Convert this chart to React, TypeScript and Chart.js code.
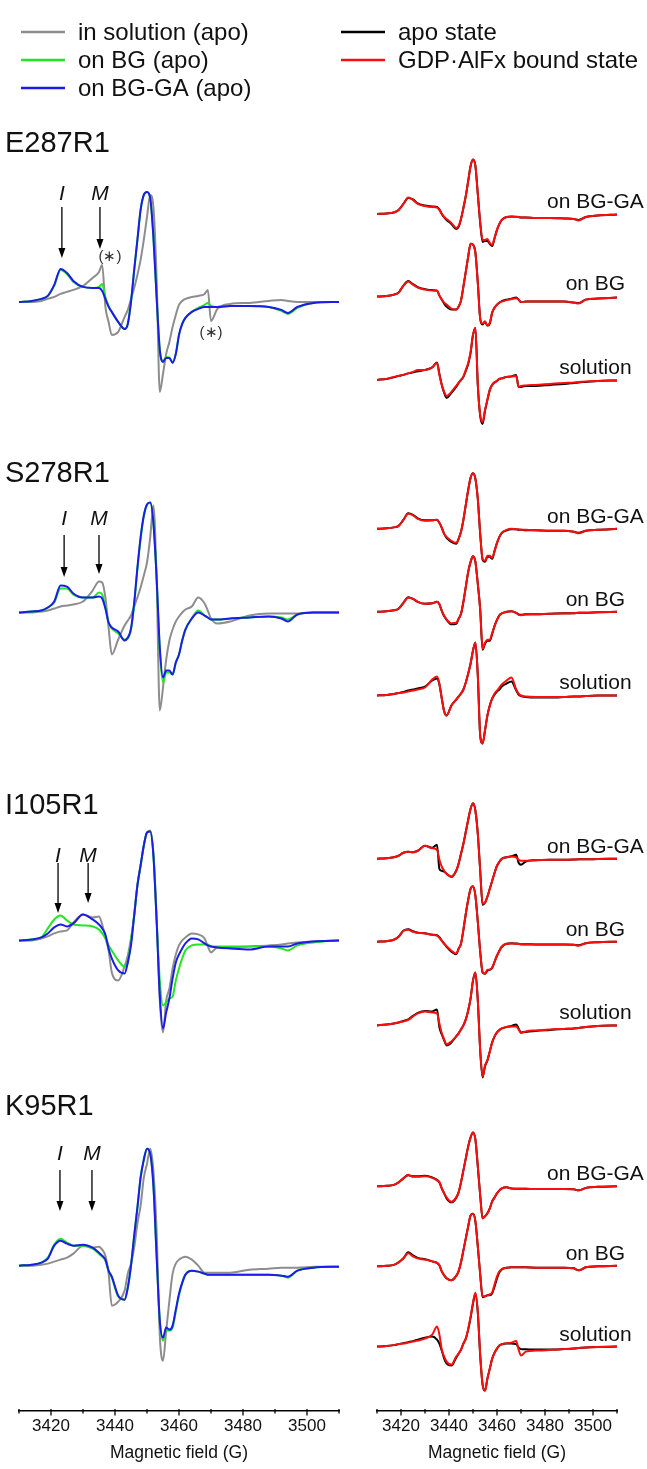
import React, { useEffect, useRef } from "react";
import { Chart, registerables } from "chart.js";

Chart.register(...registerables);

const W = 647;
const H = 1469;
const FONT = "'Liberation Sans', Arial, Helvetica, sans-serif";

// ---------- data ----------
// magnetic field sampling grid (G)
const field = [3410, 3414, 3417, 3419, 3421, 3423, 3425, 3427, 3430, 3433, 3435, 3436, 3437, 3438, 3439, 3441, 3443, 3444, 3445, 3446, 3447, 3448, 3449, 3450, 3451, 3452, 3453, 3454, 3455, 3456, 3457, 3458, 3459, 3460, 3461, 3462, 3464, 3466, 3468, 3469, 3470, 3472, 3476, 3482, 3488, 3492, 3494, 3497, 3502, 3510];

const tickValues = [3410, 3420, 3430, 3440, 3450, 3460, 3470, 3480, 3490, 3500, 3510];
const tickLabels = ["", "3420", "", "3440", "", "3460", "", "3480", "", "3500", ""];

const mutants = ["E287R1", "S278R1", "I105R1", "K95R1"];
const conditions = ["on BG-GA", "on BG", "solution"];

// left panel: apo spectra (arbitrary units)
const e287Solution = [0, 0, 1, 3, 5, 8, 10, 12, 16, 24, 30, 37, -5, -20, -33, -30, -15, -8, 3, 14, 27, 42, 62, 85, 107, 95, 25, -90, -72, -52, -40, -25, -13, -3, 1, 3, 5, 6, 8, 12, -19, -7, -2, -1, 1, 2, 1, 0, 0, 0];
const e287OnBG = [0, 1, 3, 6, 16, 32, 28, 20, 15, 14, 15, 18, 5, -4, -10, -20, -27, -22, 0, 32, 62, 92, 107, 110, 104, 65, 5, -48, -59, -55, -56, -60, -52, -33, -22, -16, -10, -6, -3, -1, -4, -5, -4, -4, -5, -9, -12, -6, -1, 0];
const e287OnBGGA = [0, 1, 3, 6, 17, 33, 29, 21, 15, 14, 14, 11, 3, -5, -10, -20, -27, -22, 0, 32, 62, 92, 107, 110, 104, 65, 5, -48, -60, -56, -56, -61, -52, -33, -22, -16, -10, -7, -5, -5, -5, -5, -4, -4, -5, -8, -11, -5, -1, 0];

const s278Solution = [0, 0, 1, 2, 4, 6, 7, 8, 11, 22, 31, 30, 15, -15, -42, -27, -13, -8, -3, 6, 15, 25, 37, 50, 75, 107, 35, -98, -75, -47, -28, -17, -9, -4, 0, 3, 6, 15, 9, 2, -6, -11, -9, -3, -1, -1, -1, -1, 0, 0];
const s278OnBG = [0, 1, 2, 5, 10, 24, 24, 18, 15, 15, 20, 18, 5, -10, -16, -21, -27, -26, -17, 8, 43, 74, 96, 108, 110, 90, 35, -38, -70, -60, -60, -62, -50, -42, -28, -17, -6, 2, -3, -5, -7, -7, -6, -5, -4, -5, -7, -2, 0, 0];
const s278OnBGGA = [0, 1, 2, 5, 11, 27, 26, 19, 15, 15, 16, 14, 4, -10, -15, -19, -28, -25, -16, 10, 45, 75, 97, 108, 110, 90, 35, -35, -65, -58, -58, -62, -50, -42, -28, -17, -6, 0, -3, -5, -7, -7, -6, -5, -4, -6, -9, -2, 0, 0];

const i105Solution = [0, 0, 2, 4, 7, 9, 10, 18, 26, 23, 24, 16, 3, -10, -32, -40, -26, -15, 2, 25, 55, 75, 95, 108, 110, 88, 25, -60, -92, -60, -48, -28, -14, -5, 0, 3, 7, 6, 2, -6, -12, -7, -7, -6, -5, -4, -3, -2, -1, 0];
const i105OnBG = [0, 1, 3, 12, 21, 25, 20, 16, 15, 14, 11, 7, 2, -5, -10, -20, -26, -22, 0, 25, 55, 75, 95, 108, 109, 85, 20, -40, -65, -62, -58, -56, -40, -28, -18, -10, -5, -4, -4, -4, -6, -6, -6, -6, -6, -8, -10, -5, -2, 0];
const i105OnBGGA = [0, 1, 3, 7, 13, 16, 14, 17, 26, 21, 16, 12, 6, -8, -18, -30, -33, -22, -5, 25, 55, 75, 95, 108, 109, 85, 20, -55, -88, -72, -58, -38, -22, -14, -8, -3, 2, 1, -3, -5, -6, -7, -8, -9, -6, -6, -6, -3, -1, 0];

const k95Solution = [0, 0, 1, 2, 4, 6, 8, 12, 20, 18, 19, 16, 10, -8, -40, -36, -25, -8, 2, 18, 42, 60, 88, 102, 117, 95, 35, -70, -95, -65, -35, -8, 2, 6, 8, 9, 6, 0, -7, -7, -7, -7, -7, -4, -3, -2, -2, -2, -1, -1];
const k95OnBG = [0, 1, 3, 8, 21, 27, 23, 20, 20, 17, 12, 9, 5, -6, -12, -31, -34, -22, 0, 30, 58, 88, 106, 117, 112, 80, 10, -55, -75, -65, -65, -62, -46, -30, -18, -9, -5, -6, -8, -9, -9, -9, -9, -9, -9, -10, -12, -5, -2, -1];
const k95OnBGGA = [0, 1, 3, 7, 20, 25, 22, 20, 21, 18, 13, 10, 6, -5, -11, -30, -34, -22, 0, 30, 58, 88, 106, 117, 112, 80, 10, -55, -72, -62, -64, -60, -44, -28, -17, -9, -5, -6, -8, -9, -9, -9, -9, -9, -9, -10, -11, -5, -2, -1];

// right panel: apo state vs GDP·AlFx bound state (arbitrary units)
const e287BGGAApo = [0, 0.5, 1.5, 4, 10, 16, 14.5, 10.5, 8.5, 7.5, 7, 4.5, 0, -3.5, -6, -10, -15, -13, -5, 6, 18, 33, 48, 54.5, 48, 20, -9, -28, -27, -27, -30, -32, -24, -16, -10, -6, -3, -2.5, -2.8, -3, -3.5, -3.5, -4, -4, -4.5, -5, -6, -3, -1.5, -0.5];
const e287BGGAGdp = [0, 0.5, 1.5, 4, 10, 16.5, 14, 10, 8, 7, 6.5, 4, 0, -3, -5, -9, -14, -12, -5, 6, 18, 33, 48, 54.5, 48, 20, -8, -26, -26, -25, -29, -31, -24, -16, -10, -6, -3, -2.7, -3, -3, -3.5, -3.5, -4, -4, -4.5, -5, -6.5, -3, -1.5, -0.5];
const e287BGApo = [0, 0.5, 2, 4, 11, 15.5, 12.5, 9.5, 7.5, 6.5, 6, 1, -3, -7, -10, -13, -13, -10, -4, 10, 25, 40, 53, 52, 44, 14, -22, -28, -25, -29, -27, -16, -11, -8, -6, -4.5, -3, -2, -1, -3, -5.5, -5, -5, -5, -5, -6, -6.5, -3, -2, -1];
const e287BGGdp = [0, 0.5, 2, 4, 11, 15, 12, 9, 7, 6, 6, 1, -3, -6, -8, -12, -13, -10, -4, 10, 25, 40, 53, 52, 44, 14, -22, -27, -25, -29, -26, -16, -11, -8, -6, -5, -3.5, -2.5, -1.7, -3, -5.5, -5, -5, -5, -5, -6, -7, -3, -2, -1];
const e287SolApo = [0, 1, 2.5, 4, 5, 6.5, 7.5, 8.5, 10, 12.5, 17.5, 6, -5, -13, -18, -13, -7, -3, 0, 3, 9, 16, 27, 45, 52, -5, -36, -44, -31, -20, -10, -5, -2.5, -1, 1, 1.5, 3, 3.5, 5, -7, -7, -6, -6, -5, -4, -3, -2.5, -2, -1, -0.5];
const e287SolGdp = [0, 1, 3, 4, 5, 6.5, 8, 10, 10, 12.5, 17, 5, -5, -12, -16, -12, -6, -3, 0, 3.5, 10, 17, 28, 45, 52, -5, -35, -42, -30, -20, -10, -5, -2.5, -1, 1, 1.5, 3, 3.5, 4, -7, -6, -5.5, -5, -4, -3, -2.5, -2, -1.5, -1, -0.5];

const s278BGGAApo = [0, 0.5, 1.5, 3, 9, 15.5, 14, 10.5, 8.5, 8.5, 9, 6, 1, -5, -9, -13, -15, -10, -3, 9, 24, 39, 51, 55.5, 50, 30, -5, -31, -33, -28, -28, -30, -22, -14, -8, -4, -1.5, -0.5, -0.5, -1, -1, -1.5, -1.5, -2, -2, -3, -4, -2, -1, 0];
const s278BGGAGdp = [0, 0.5, 1.5, 3, 9, 15, 13.5, 10, 8, 8.5, 9, 6, 1, -5, -8, -12, -14, -10, -3, 9, 24, 39, 51, 55.5, 50, 30, -5, -30, -32, -27, -27, -29, -22, -14, -8, -4, -1, 0, -0.5, -0.5, -1, -1, -1.5, -2, -2, -3, -4.5, -2, -1, 0];
const s278BGApo = [0, 0.5, 1.5, 3, 9, 14.5, 13, 10, 8, 8.5, 10, 7.5, 1, -4.5, -8, -12.5, -12, -7, -2, 10, 25, 40, 50, 55.5, 50, 28, 2, -38, -32, -29, -29, -22, -14, -8, -3.5, -1.5, 0, 0.5, -1, -2.5, -3, -2.5, -2.5, -2, -1.5, -1.5, -1, -1, -0.5, 0];
const s278BGGdp = [0, 0.5, 1.5, 3, 9, 14, 13, 10, 8, 8.5, 10, 7.5, 1, -4, -7.5, -11.5, -11, -7, -2, 10, 25, 40, 50, 55.5, 50, 28, 2, -37, -31, -28, -28, -21, -14, -8, -3.5, -1.5, 0, 0.7, -1, -3, -3.3, -2.7, -2.5, -2, -1.7, -1.5, -1, -1, -0.5, 0];
const s278SolApo = [0, 0.5, 1.5, 2.5, 3.5, 5, 6, 7, 9, 15, 17, 11, -3, -16, -20, -10, -4, -1, 2, 6, 13, 22, 32, 45, 53, 20, -40, -48, -35, -20, -10, -3, 1, 4, 6, 9, 12, 14, 5, 1, -0.5, -1.5, -2, -2, -1.5, -1, -1, -0.5, 0, 0];
const s278SolGdp = [0, 0.5, 1.5, 2.5, 3, 4, 5, 6, 8, 16, 19, 12, -3, -16, -20, -10, -4, -1, 2, 6, 13, 22, 32, 45, 53, 20, -40, -48, -35, -20, -10, -3, 2, 5, 8, 11, 15, 18, 6, 2, 0, -1, -1.5, -1.5, -1.5, -1, -1, -0.5, 0, 0];

const i105BGGAApo = [0, 0.5, 1.5, 3, 6, 7, 6.5, 8, 13, 11, 14, -10, -12, -13, -15, -18, -12, -5, 5, 15, 27, 39, 50, 55.5, 48, 25, -12, -46, -44, -38, -30, -22, -14, -7, -3, 0, 1.5, 2.5, 4, -4, -6, -2.7, -1.5, -1, -1, -0.8, -0.6, -0.5, -0.3, 0];
const i105BGGAGdp = [0, 0.5, 1.5, 3, 6, 7, 6.5, 8, 13, 10.5, 9, -1, -8, -12, -15, -18, -12, -5, 5, 15, 27, 39, 50, 55.5, 48, 25, -12, -45, -44, -38, -30, -22, -14, -7, -3, 0, 1.5, 2.3, 1.5, -1, -2, -2, -1.5, -1, -1, -0.8, -0.6, -0.5, -0.3, 0];
const i105BGApo = [0, 0.5, 2, 5, 11, 12.5, 10.5, 9, 8.5, 7, 6.5, 4.5, 1, -2, -5, -10, -12.5, -7, -2, 12, 28, 42, 53, 55.5, 46, 20, -10, -31, -32, -29, -28, -26, -20, -14, -9, -5, -2, -1.5, -1.8, -2, -2.5, -2.5, -2.7, -2.7, -2.7, -3, -3.5, -1.5, -0.5, 0];
const i105BGGdp = [0, 0.5, 2, 5, 11, 12, 10, 9, 8.3, 7, 6, 4, 1, -2, -4.5, -9, -12, -7, -2, 12, 28, 42, 53, 55.5, 46, 20, -10, -30, -32, -28, -28, -26, -20, -14, -9, -5, -2, -1.7, -2, -2.3, -2.5, -2.7, -2.7, -2.7, -2.7, -3, -4, -1.5, -0.5, 0];
const i105SolApo = [0, 1, 2, 3, 4.5, 6, 9.5, 12.5, 14.5, 14, 16, -2, -9, -15, -20, -17, -11, -8, -4, 0, 6, 15, 27, 45, 53, 25, -25, -52, -41, -35, -26, -17, -11, -7, -4.5, -3, -1.5, -0.5, 1, -3, -7, -6.5, -5.5, -4.5, -3.5, -3, -2.5, -1.5, -0.5, 0];
const i105SolGdp = [0, 1, 2, 3, 4, 5.5, 9, 12, 14, 13, 12, 2, -8, -14, -19, -16, -11, -8, -4, 0, 6, 15, 27, 45, 53, 25, -25, -51, -40, -35, -26, -17, -11, -7, -4.5, -3, -1.5, -1, -1, -4, -7.5, -6, -5, -4, -3.5, -3, -2.5, -1.5, -0.5, 0];

const k95BGGAApo = [0, 0.5, 1.5, 4, 8, 11, 10, 10, 10.5, 9, 6.5, 4, -2, -7, -12, -16, -11.5, -6, 4, 16, 28, 40, 49, 54, 47, 20, -9, -32, -30, -27, -22, -15, -11, -7, -4, -2, -1, -2, -2.5, -2.5, -2.5, -2.5, -2.7, -2.7, -2.7, -3, -4, -1.5, -0.5, 0];
const k95BGGAGdp = [0, 0.5, 1.5, 4, 8, 11.5, 9.5, 9.5, 10, 8.5, 6, 4, -2, -7, -11, -15.5, -11, -6, 4, 16, 28, 40, 49, 54, 47, 20, -9, -32, -30, -27, -22, -15, -11, -7, -4, -2, -1, -2.3, -2.5, -2.5, -2.5, -2.5, -2.7, -2.7, -2.7, -3, -4, -1.5, -0.5, 0];
const k95BGApo = [0, 0.5, 1.5, 4, 8, 14, 11, 8.5, 7, 5, 3.5, 1, -5, -9, -12, -14, -9.5, -5, 4, 16, 28, 40, 51, 52.5, 45, 20, -8, -31, -30, -29, -29, -27, -20, -12, -6, -3, -1.5, -0.8, -1, -1, -1, -1, -1.3, -1.3, -1.3, -2, -4, -1, 0, 0.5];
const k95BGGdp = [0, 0.5, 1.5, 4, 8, 13, 10, 8, 6.7, 5, 3.5, 1, -5, -9, -12, -14, -9.5, -5, 4, 16, 28, 40, 51, 52.5, 45, 20, -8, -30, -30, -29, -28, -26, -18, -10, -5, -2.7, -1.5, -0.8, -1, -1, -1, -1, -1.3, -1.3, -1.3, -2, -4, -1, 0, 0.5];
const k95SolApo = [0, 0.5, 1.5, 2.5, 3.5, 4.5, 5.5, 7, 9, 10, 7, 3, -4, -12, -17, -19, -11, -7, -3, 3, 8, 17, 29, 43, 53, 34, -9, -38, -44, -32, -22, -12, -6, -2, 1, 2.3, 3, 3, 2.5, -1, -2.5, -2.7, -3, -3, -2.5, -2, -1.5, -1, -0.5, 0];
const k95SolGdp = [0, 0.5, 1.5, 2.5, 3, 4, 5, 6, 8, 12, 20, 12, -3, -10, -15, -18, -10, -7, -3, 3, 8, 18, 30, 44, 54, 35, -8, -38, -44, -32, -22, -12, -6, -2, 1, 2.3, 3.5, 4, 5.5, -3, -9, -5, -4, -3.5, -2.5, -2, -1.5, -1, -0.5, 0];

const leftSolution = [e287Solution, s278Solution, i105Solution, k95Solution];
const leftOnBG = [e287OnBG, s278OnBG, i105OnBG, k95OnBG];
const leftOnBGGA = [e287OnBGGA, s278OnBGGA, i105OnBGGA, k95OnBGGA];

const rightApo = [
  [e287BGGAApo, e287BGApo, e287SolApo],
  [s278BGGAApo, s278BGApo, s278SolApo],
  [i105BGGAApo, i105BGApo, i105SolApo],
  [k95BGGAApo, k95BGApo, k95SolApo],
];
const rightGdp = [
  [e287BGGAGdp, e287BGGdp, e287SolGdp],
  [s278BGGAGdp, s278BGGdp, s278SolGdp],
  [i105BGGAGdp, i105BGGdp, i105SolGdp],
  [k95BGGAGdp, k95BGGdp, k95SolGdp],
];

// ---------- layout (offsets of stacked spectra, annotation placement) ----------
const PLOT_BOTTOM = 1411;
const leftOffsets = [302, 612.7, 940.7, 1266];
const rightOffsets = [
  [214, 296.7, 380],
  [529, 612, 695.7],
  [859, 942, 1025.7],
  [1186.7, 1266.7, 1347],
];
const titleY = [143, 473, 805, 1106];
const markText = ["I", "M"];
const markField = [
  [3423.4, 3435.3],
  [3424.1, 3435],
  [3422.2, 3431.6],
  [3422.8, 3432.8],
];
const markLabelY = [193, 518, 855, 1153];
const markArrowTop = [207, 535, 863, 1170];
const markArrowTip = [
  [258, 249],
  [577, 574],
  [913, 903],
  [1211, 1211],
];
const asteriskField = [3438.4, 3470];
const asteriskY = [257, 333];
const conditionField = 3501;

const GRAY = "#8d8d8d";
const GREEN = "#22e622";
const BLUE = "#1c1ce8";
const BLACK = "#000000";
const RED = "#ff0d0d";
const INK = "#111111";

const legendLeft = [
  { label: "in solution (apo)", color: GRAY },
  { label: "on BG (apo)", color: GREEN },
  { label: "on BG-GA (apo)", color: BLUE },
];
const legendRight = [
  { label: "apo state", color: BLACK },
  { label: "GDP·AlFx bound state", color: RED },
];
const legendRowY = [32, 60, 88];

function points(values: number[], offset: number) {
  return field.map((x, i) => ({ x, y: offset - values[i] }));
}

function lineDs(label: string, values: number[], offset: number, color: string, order: number) {
  return {
    label,
    data: points(values, offset),
    borderColor: color,
    backgroundColor: color,
    borderWidth: 2,
    pointRadius: 0,
    fill: false,
    cubicInterpolationMode: "monotone" as const,
    tension: 0.4,
    order,
  };
}

function xScaleOptions() {
  return {
    type: "linear" as const,
    min: 3410,
    max: 3510,
    border: { display: true, color: "#000", width: 1.5 },
    grid: { display: false, drawTicks: false },
    ticks: {
      stepSize: 10,
      autoSkip: false,
      maxRotation: 0,
      minRotation: 0,
      padding: 6,
      color: INK,
      font: { family: FONT, size: 17 },
      callback: (v: any) => {
        const i = tickValues.indexOf(Number(v));
        return i >= 0 ? tickLabels[i] : "";
      },
    },
    title: {
      display: true,
      text: "Magnetic field (G)",
      color: INK,
      font: { family: FONT, size: 17.5 },
      padding: { top: 0, bottom: 5 },
    },
  };
}

const yScaleOptions = {
  type: "linear" as const,
  display: false,
  min: 0,
  max: PLOT_BOTTOM,
  reverse: true,
};

const tickMarks = {
  id: "tickMarks",
  afterDraw(chart: any) {
    const xs = chart.scales.x;
    const ctx = chart.ctx;
    const y0 = xs.top;
    ctx.save();
    ctx.strokeStyle = "#000";
    ctx.lineWidth = 1.3;
    tickValues.forEach((v) => {
      const px = xs.getPixelForValue(v);
      const major = (v - 3400) % 20 === 0;
      ctx.beginPath();
      ctx.moveTo(px, y0 - 1.5);
      ctx.lineTo(px, y0 + (major ? 5 : 3));
      ctx.stroke();
    });
    ctx.restore();
  },
};

function drawArrow(ctx: CanvasRenderingContext2D, x: number, top: number, tip: number) {
  ctx.beginPath();
  ctx.moveTo(x, top);
  ctx.lineTo(x, tip - 8);
  ctx.stroke();
  ctx.beginPath();
  ctx.moveTo(x - 3.5, tip - 10);
  ctx.lineTo(x + 3.5, tip - 10);
  ctx.lineTo(x, tip);
  ctx.closePath();
  ctx.fill();
}

const leftDecor = {
  id: "leftDecor",
  afterDraw(chart: any) {
    const ctx: CanvasRenderingContext2D = chart.ctx;
    const xs = chart.scales.x;
    ctx.save();
    // legend
    ctx.font = `24px ${FONT}`;
    ctx.textBaseline = "middle";
    ctx.textAlign = "left";
    legendLeft.forEach((e, i) => {
      ctx.strokeStyle = e.color;
      ctx.lineWidth = 2.5;
      ctx.beginPath();
      ctx.moveTo(21, legendRowY[i]);
      ctx.lineTo(65, legendRowY[i]);
      ctx.stroke();
      ctx.fillStyle = INK;
      ctx.fillText(e.label, 78, legendRowY[i] + 1);
    });
    legendRight.forEach((e, i) => {
      ctx.strokeStyle = e.color;
      ctx.lineWidth = 2.5;
      ctx.beginPath();
      ctx.moveTo(341, legendRowY[i]);
      ctx.lineTo(385, legendRowY[i]);
      ctx.stroke();
      ctx.fillStyle = INK;
      ctx.fillText(e.label, 398, legendRowY[i] + 1);
    });
    // mutant titles
    ctx.font = `29px ${FONT}`;
    ctx.fillStyle = INK;
    mutants.forEach((m, i) => ctx.fillText(m, 5, titleY[i] + 1));
    // I / M marks
    ctx.strokeStyle = "#000";
    ctx.lineWidth = 1.3;
    mutants.forEach((_, g) => {
      markText.forEach((t, k) => {
        const x = xs.getPixelForValue(markField[g][k]);
        ctx.font = `italic 21px ${FONT}`;
        ctx.textAlign = "center";
        ctx.fillStyle = INK;
        ctx.fillText(t, x, markLabelY[g] + 1);
        ctx.fillStyle = "#000";
        drawArrow(ctx, x, markArrowTop[g], markArrowTip[g][k]);
      });
    });
    // asterisks on E287R1
    ctx.font = `15px ${FONT}`;
    ctx.fillStyle = "#333";
    asteriskField.forEach((f, i) => {
      ctx.fillText("(\u2217)", xs.getPixelForValue(f), asteriskY[i]);
    });
    ctx.restore();
  },
};

const rightDecor = {
  id: "rightDecor",
  afterDraw(chart: any) {
    const ctx: CanvasRenderingContext2D = chart.ctx;
    const xs = chart.scales.x;
    ctx.save();
    ctx.font = `21px ${FONT}`;
    ctx.fillStyle = INK;
    ctx.textAlign = "center";
    ctx.textBaseline = "middle";
    const cx = xs.getPixelForValue(conditionField);
    rightOffsets.forEach((row) => {
      row.forEach((off, k) => {
        ctx.fillText(conditions[k], cx, off - 12);
      });
    });
    ctx.restore();
  },
};

function leftConfig(): any {
  const datasets: any[] = [];
  mutants.forEach((m, g) => {
    datasets.push(lineDs(`${m} in solution (apo)`, leftSolution[g], leftOffsets[g], GRAY, 3));
    datasets.push(lineDs(`${m} on BG (apo)`, leftOnBG[g], leftOffsets[g], GREEN, 2));
    datasets.push(lineDs(`${m} on BG-GA (apo)`, leftOnBGGA[g], leftOffsets[g], BLUE, 1));
  });
  return {
    type: "line",
    data: { datasets },
    options: {
      animation: false,
      responsive: false,
      devicePixelRatio: 1,
      layout: { padding: { left: 19, right: W - 339, top: 0, bottom: 0 } },
      plugins: { legend: { display: false }, tooltip: { enabled: false } },
      scales: { x: xScaleOptions(), y: yScaleOptions },
    },
    plugins: [tickMarks, leftDecor],
  };
}

function rightConfig(): any {
  const datasets: any[] = [];
  mutants.forEach((m, g) => {
    conditions.forEach((c, k) => {
      datasets.push(lineDs(`${m} ${c} apo state`, rightApo[g][k], rightOffsets[g][k], BLACK, 2));
      datasets.push(lineDs(`${m} ${c} GDP·AlFx bound state`, rightGdp[g][k], rightOffsets[g][k], RED, 1));
    });
  });
  return {
    type: "line",
    data: { datasets },
    options: {
      animation: false,
      responsive: false,
      devicePixelRatio: 1,
      layout: { padding: { left: 377, right: W - 617, top: 0, bottom: 0 } },
      plugins: { legend: { display: false }, tooltip: { enabled: false } },
      scales: { x: xScaleOptions(), y: yScaleOptions },
    },
    plugins: [tickMarks, rightDecor],
  };
}

export default function App() {
  const leftRef = useRef<HTMLCanvasElement>(null);
  const rightRef = useRef<HTMLCanvasElement>(null);
  useEffect(() => {
    const charts: Chart[] = [];
    if (leftRef.current) charts.push(new Chart(leftRef.current, leftConfig()));
    if (rightRef.current) charts.push(new Chart(rightRef.current, rightConfig()));
    return () => charts.forEach((c) => c.destroy());
  }, []);
  return (
    <div style={{ position: "absolute", left: 0, top: 0, width: W, height: H, background: "#fff" }}>
      <canvas ref={leftRef} width={W} height={H} style={{ position: "absolute", left: 0, top: 0, width: W, height: H }} />
      <canvas ref={rightRef} width={W} height={H} style={{ position: "absolute", left: 0, top: 0, width: W, height: H }} />
    </div>
  );
}
